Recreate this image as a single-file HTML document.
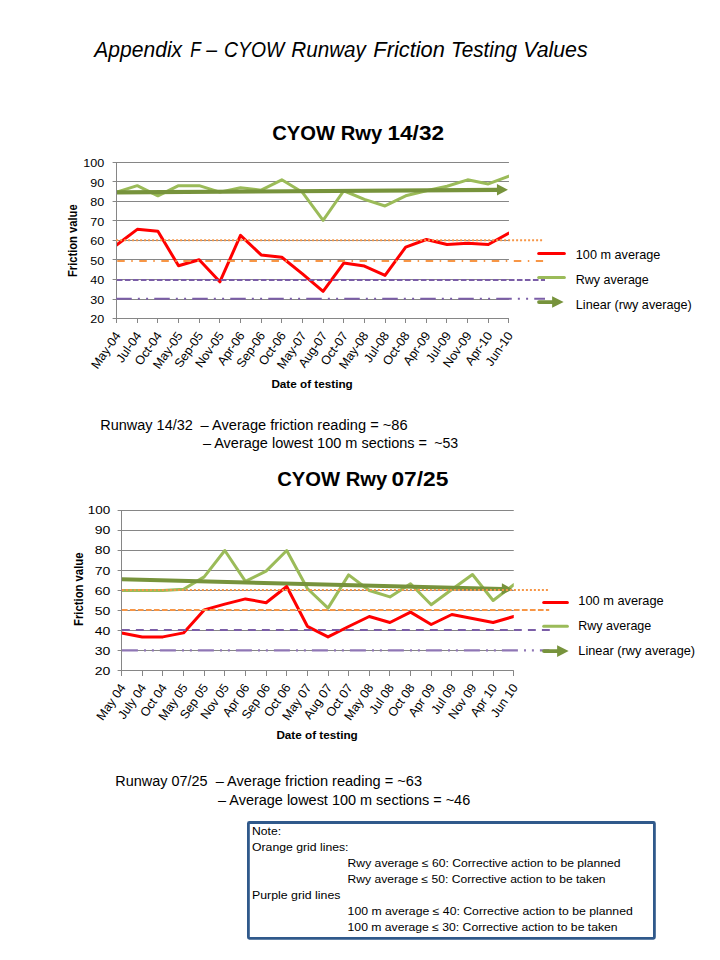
<!DOCTYPE html>
<html><head><meta charset="utf-8"><title>Appendix F</title>
<style>
html,body{margin:0;padding:0;background:#fff;}
svg{display:block;}
text{font-family:"Liberation Sans", sans-serif;fill:#000;}
</style></head>
<body>
<svg width="720" height="960" viewBox="0 0 720 960">
<rect width="720" height="960" fill="#fff"/>
<text x="94.3" y="56.8" font-size="21.4" font-style="italic" textLength="87.83" lengthAdjust="spacingAndGlyphs">Appendix</text>
<text x="190.2" y="56.8" font-size="21.4" font-style="italic" textLength="10.6" lengthAdjust="spacingAndGlyphs">F</text>
<text x="206.3" y="56.8" font-size="21.4" font-style="italic" textLength="10.84" lengthAdjust="spacingAndGlyphs">–</text>
<text x="224" y="56.8" font-size="21.4" font-style="italic" textLength="60.2" lengthAdjust="spacingAndGlyphs">CYOW</text>
<text x="291.3" y="56.8" font-size="21.4" font-style="italic" textLength="74.62" lengthAdjust="spacingAndGlyphs">Runway</text>
<text x="373.3" y="56.8" font-size="21.4" font-style="italic" textLength="71.61" lengthAdjust="spacingAndGlyphs">Friction</text>
<text x="450.9" y="56.8" font-size="21.4" font-style="italic" textLength="66.06" lengthAdjust="spacingAndGlyphs">Testing</text>
<text x="523.2" y="56.8" font-size="21.4" font-style="italic" textLength="64.48" lengthAdjust="spacingAndGlyphs">Values</text>
<line x1="112.6" y1="162.5" x2="508.95" y2="162.5" stroke="#868686" stroke-width="1"/>
<line x1="112.6" y1="181.5" x2="508.95" y2="181.5" stroke="#868686" stroke-width="1"/>
<line x1="112.6" y1="201.5" x2="508.95" y2="201.5" stroke="#868686" stroke-width="1"/>
<line x1="112.6" y1="220.5" x2="508.95" y2="220.5" stroke="#868686" stroke-width="1"/>
<line x1="112.6" y1="240.5" x2="508.95" y2="240.5" stroke="#868686" stroke-width="1"/>
<line x1="112.6" y1="259.5" x2="508.95" y2="259.5" stroke="#868686" stroke-width="1"/>
<line x1="112.6" y1="279.5" x2="508.95" y2="279.5" stroke="#868686" stroke-width="1"/>
<line x1="112.6" y1="299.5" x2="508.95" y2="299.5" stroke="#868686" stroke-width="1"/>
<line x1="112.6" y1="318.5" x2="508.95" y2="318.5" stroke="#868686" stroke-width="1"/>
<clipPath id="c1"><rect x="116.5" y="152.5" width="392.45" height="176"/></clipPath>
<line x1="116.5" y1="318.5" x2="116.5" y2="323" stroke="#868686" stroke-width="1"/>
<line x1="137.5" y1="318.5" x2="137.5" y2="323" stroke="#868686" stroke-width="1"/>
<line x1="157.5" y1="318.5" x2="157.5" y2="323" stroke="#868686" stroke-width="1"/>
<line x1="178.5" y1="318.5" x2="178.5" y2="323" stroke="#868686" stroke-width="1"/>
<line x1="199.5" y1="318.5" x2="199.5" y2="323" stroke="#868686" stroke-width="1"/>
<line x1="219.5" y1="318.5" x2="219.5" y2="323" stroke="#868686" stroke-width="1"/>
<line x1="240.5" y1="318.5" x2="240.5" y2="323" stroke="#868686" stroke-width="1"/>
<line x1="261.5" y1="318.5" x2="261.5" y2="323" stroke="#868686" stroke-width="1"/>
<line x1="281.5" y1="318.5" x2="281.5" y2="323" stroke="#868686" stroke-width="1"/>
<line x1="302.5" y1="318.5" x2="302.5" y2="323" stroke="#868686" stroke-width="1"/>
<line x1="323.5" y1="318.5" x2="323.5" y2="323" stroke="#868686" stroke-width="1"/>
<line x1="343.5" y1="318.5" x2="343.5" y2="323" stroke="#868686" stroke-width="1"/>
<line x1="364.5" y1="318.5" x2="364.5" y2="323" stroke="#868686" stroke-width="1"/>
<line x1="385.5" y1="318.5" x2="385.5" y2="323" stroke="#868686" stroke-width="1"/>
<line x1="405.5" y1="318.5" x2="405.5" y2="323" stroke="#868686" stroke-width="1"/>
<line x1="426.5" y1="318.5" x2="426.5" y2="323" stroke="#868686" stroke-width="1"/>
<line x1="446.5" y1="318.5" x2="446.5" y2="323" stroke="#868686" stroke-width="1"/>
<line x1="467.5" y1="318.5" x2="467.5" y2="323" stroke="#868686" stroke-width="1"/>
<line x1="488.5" y1="318.5" x2="488.5" y2="323" stroke="#868686" stroke-width="1"/>
<line x1="508.5" y1="318.5" x2="508.5" y2="323" stroke="#868686" stroke-width="1"/>
<text x="104.3" y="167.2" text-anchor="end" font-size="10.3" textLength="20.96" lengthAdjust="spacingAndGlyphs">100</text>
<text x="104.3" y="186.7" text-anchor="end" font-size="10.3" textLength="13.97" lengthAdjust="spacingAndGlyphs">90</text>
<text x="104.3" y="206.2" text-anchor="end" font-size="10.3" textLength="13.97" lengthAdjust="spacingAndGlyphs">80</text>
<text x="104.3" y="225.7" text-anchor="end" font-size="10.3" textLength="13.97" lengthAdjust="spacingAndGlyphs">70</text>
<text x="104.3" y="245.2" text-anchor="end" font-size="10.3" textLength="13.97" lengthAdjust="spacingAndGlyphs">60</text>
<text x="104.3" y="264.7" text-anchor="end" font-size="10.3" textLength="13.97" lengthAdjust="spacingAndGlyphs">50</text>
<text x="104.3" y="284.2" text-anchor="end" font-size="10.3" textLength="13.97" lengthAdjust="spacingAndGlyphs">40</text>
<text x="104.3" y="303.7" text-anchor="end" font-size="10.3" textLength="13.97" lengthAdjust="spacingAndGlyphs">30</text>
<text x="104.3" y="323.2" text-anchor="end" font-size="10.3" textLength="13.97" lengthAdjust="spacingAndGlyphs">20</text>
<g clip-path="url(#c1)">
<polyline points="116.6,192.11 137.25,185.67 157.9,195.81 178.55,185.67 199.2,185.67 219.85,192.11 240.5,187.82 261.15,190.16 281.8,179.82 302.45,192.3 323.1,220.38 343.75,190.74 364.4,199.32 385.05,205.95 405.7,195.81 426.35,190.74 447,186.26 467.65,179.82 488.3,183.92 508.95,176.12" fill="none" stroke="#9BBB59" stroke-width="3" stroke-linejoin="round" stroke-linecap="round"/>
<line x1="116.6" y1="192.34" x2="497.95" y2="189.87" stroke="#77933C" stroke-width="4.1"/>
<polygon points="507.95,189.8 496.99,195.62 496.91,184.12" fill="#77933C"/>
<polyline points="116.6,244.95 137.25,229.35 157.9,231.3 178.55,265.81 199.2,259.77 219.85,281.81 240.5,235.4 261.15,254.9 281.8,257.24 302.45,273.81 323.1,291.36 343.75,263.08 364.4,266.01 385.05,275.37 405.7,247.1 426.35,239.49 447,244.56 467.65,243.2 488.3,244.56 508.95,233.06" fill="none" stroke="#FF0000" stroke-width="3" stroke-linejoin="round" stroke-linecap="round"/>
</g>
<line x1="116.5" y1="162" x2="116.5" y2="319" stroke="#868686" stroke-width="1"/>
<line x1="116.1" y1="240.3" x2="542.2" y2="240.3" stroke="#F79646" stroke-width="2" stroke-dasharray="2 2"/>
<line x1="117.25" y1="261" x2="543.1" y2="261" stroke="#F79646" stroke-width="2" stroke-dasharray="7.5 6.5 1.5 6.53"/>
<line x1="116.9" y1="279.9" x2="545" y2="279.9" stroke="#7B5EA7" stroke-width="2" stroke-dasharray="5.6 2.4"/>
<line x1="116.25" y1="298.8" x2="545" y2="298.8" stroke="#7B5EA7" stroke-width="2" stroke-dasharray="15.5 6.1 2 6.25 2 6.15"/>
<text transform="translate(121.2,335.5) rotate(-55.2)" text-anchor="end" font-size="12.5">May-04</text>
<text transform="translate(141.85,335.5) rotate(-55.2)" text-anchor="end" font-size="12.5">Jul-04</text>
<text transform="translate(162.5,335.5) rotate(-55.2)" text-anchor="end" font-size="12.5">Oct-04</text>
<text transform="translate(183.15,335.5) rotate(-55.2)" text-anchor="end" font-size="12.5">May-05</text>
<text transform="translate(203.8,335.5) rotate(-55.2)" text-anchor="end" font-size="12.5">Sep-05</text>
<text transform="translate(224.45,335.5) rotate(-55.2)" text-anchor="end" font-size="12.5">Nov-05</text>
<text transform="translate(245.1,335.5) rotate(-55.2)" text-anchor="end" font-size="12.5">Apr-06</text>
<text transform="translate(265.75,335.5) rotate(-55.2)" text-anchor="end" font-size="12.5">Sep-06</text>
<text transform="translate(286.4,335.5) rotate(-55.2)" text-anchor="end" font-size="12.5">Oct-06</text>
<text transform="translate(307.05,335.5) rotate(-55.2)" text-anchor="end" font-size="12.5">May-07</text>
<text transform="translate(327.7,335.5) rotate(-55.2)" text-anchor="end" font-size="12.5">Aug-07</text>
<text transform="translate(348.35,335.5) rotate(-55.2)" text-anchor="end" font-size="12.5">Oct-07</text>
<text transform="translate(369,335.5) rotate(-55.2)" text-anchor="end" font-size="12.5">May-08</text>
<text transform="translate(389.65,335.5) rotate(-55.2)" text-anchor="end" font-size="12.5">Jul-08</text>
<text transform="translate(410.3,335.5) rotate(-55.2)" text-anchor="end" font-size="12.5">Oct-08</text>
<text transform="translate(430.95,335.5) rotate(-55.2)" text-anchor="end" font-size="12.5">Apr-09</text>
<text transform="translate(451.6,335.5) rotate(-55.2)" text-anchor="end" font-size="12.5">Jul-09</text>
<text transform="translate(472.25,335.5) rotate(-55.2)" text-anchor="end" font-size="12.5">Nov-09</text>
<text transform="translate(492.9,335.5) rotate(-55.2)" text-anchor="end" font-size="12.5">Apr-10</text>
<text transform="translate(513.55,335.5) rotate(-55.2)" text-anchor="end" font-size="12.5">Jun-10</text>
<text x="271.4" y="387.8" font-size="11.3" font-weight="bold" textLength="81.4" lengthAdjust="spacingAndGlyphs">Date of testing</text>
<text transform="translate(77.2,277) rotate(-90)" font-size="12" font-weight="bold" textLength="72.6" lengthAdjust="spacingAndGlyphs">Friction value</text>
<text x="272.2" y="139.6" font-size="21" font-weight="bold" textLength="110" lengthAdjust="spacingAndGlyphs">CYOW Rwy</text>
<text x="387.5" y="139.6" font-size="21" font-weight="bold" textLength="56.5" lengthAdjust="spacingAndGlyphs">14/32</text>
<line x1="538.7" y1="253.6" x2="564.4" y2="253.6" stroke="#FF0000" stroke-width="3" stroke-linecap="round"/>
<line x1="538.7" y1="277.6" x2="564.4" y2="277.6" stroke="#9BBB59" stroke-width="3" stroke-linecap="round"/>
<line x1="539" y1="302.05" x2="553.1" y2="302.05" stroke="#77933C" stroke-width="3.8" stroke-linecap="round"/>
<polygon points="563.6,302.05 552.1,296.25 552.1,307.85" fill="#77933C"/>
<text x="575.8" y="258.9" font-size="12.2" textLength="84.5" lengthAdjust="spacingAndGlyphs">100 m average</text>
<text x="575.8" y="284.2" font-size="12.2" textLength="73" lengthAdjust="spacingAndGlyphs">Rwy average</text>
<text x="575.8" y="309" font-size="12.2" textLength="116" lengthAdjust="spacingAndGlyphs">Linear (rwy average)</text>
<line x1="117.6" y1="510.5" x2="513.76" y2="510.5" stroke="#868686" stroke-width="1"/>
<line x1="117.6" y1="530.5" x2="513.76" y2="530.5" stroke="#868686" stroke-width="1"/>
<line x1="117.6" y1="550.5" x2="513.76" y2="550.5" stroke="#868686" stroke-width="1"/>
<line x1="117.6" y1="570.5" x2="513.76" y2="570.5" stroke="#868686" stroke-width="1"/>
<line x1="117.6" y1="590.5" x2="513.76" y2="590.5" stroke="#868686" stroke-width="1"/>
<line x1="117.6" y1="610.5" x2="513.76" y2="610.5" stroke="#868686" stroke-width="1"/>
<line x1="117.6" y1="630.5" x2="513.76" y2="630.5" stroke="#868686" stroke-width="1"/>
<line x1="117.6" y1="650.5" x2="513.76" y2="650.5" stroke="#868686" stroke-width="1"/>
<line x1="117.6" y1="670.5" x2="513.76" y2="670.5" stroke="#868686" stroke-width="1"/>
<clipPath id="c2"><rect x="121.5" y="500.5" width="392.26" height="180"/></clipPath>
<line x1="121.5" y1="670.5" x2="121.5" y2="676" stroke="#868686" stroke-width="1"/>
<line x1="142.5" y1="670.5" x2="142.5" y2="676" stroke="#868686" stroke-width="1"/>
<line x1="162.5" y1="670.5" x2="162.5" y2="676" stroke="#868686" stroke-width="1"/>
<line x1="183.5" y1="670.5" x2="183.5" y2="676" stroke="#868686" stroke-width="1"/>
<line x1="204.5" y1="670.5" x2="204.5" y2="676" stroke="#868686" stroke-width="1"/>
<line x1="224.5" y1="670.5" x2="224.5" y2="676" stroke="#868686" stroke-width="1"/>
<line x1="245.5" y1="670.5" x2="245.5" y2="676" stroke="#868686" stroke-width="1"/>
<line x1="266.5" y1="670.5" x2="266.5" y2="676" stroke="#868686" stroke-width="1"/>
<line x1="286.5" y1="670.5" x2="286.5" y2="676" stroke="#868686" stroke-width="1"/>
<line x1="307.5" y1="670.5" x2="307.5" y2="676" stroke="#868686" stroke-width="1"/>
<line x1="328.5" y1="670.5" x2="328.5" y2="676" stroke="#868686" stroke-width="1"/>
<line x1="348.5" y1="670.5" x2="348.5" y2="676" stroke="#868686" stroke-width="1"/>
<line x1="369.5" y1="670.5" x2="369.5" y2="676" stroke="#868686" stroke-width="1"/>
<line x1="389.5" y1="670.5" x2="389.5" y2="676" stroke="#868686" stroke-width="1"/>
<line x1="410.5" y1="670.5" x2="410.5" y2="676" stroke="#868686" stroke-width="1"/>
<line x1="431.5" y1="670.5" x2="431.5" y2="676" stroke="#868686" stroke-width="1"/>
<line x1="451.5" y1="670.5" x2="451.5" y2="676" stroke="#868686" stroke-width="1"/>
<line x1="472.5" y1="670.5" x2="472.5" y2="676" stroke="#868686" stroke-width="1"/>
<line x1="493.5" y1="670.5" x2="493.5" y2="676" stroke="#868686" stroke-width="1"/>
<line x1="513.5" y1="670.5" x2="513.5" y2="676" stroke="#868686" stroke-width="1"/>
<text x="110.3" y="514.2" text-anchor="end" font-size="11.2" textLength="22.42" lengthAdjust="spacingAndGlyphs">100</text>
<text x="110.3" y="534.33" text-anchor="end" font-size="11.2" textLength="15.57" lengthAdjust="spacingAndGlyphs">90</text>
<text x="110.3" y="554.46" text-anchor="end" font-size="11.2" textLength="15.57" lengthAdjust="spacingAndGlyphs">80</text>
<text x="110.3" y="574.59" text-anchor="end" font-size="11.2" textLength="15.57" lengthAdjust="spacingAndGlyphs">70</text>
<text x="110.3" y="594.72" text-anchor="end" font-size="11.2" textLength="15.57" lengthAdjust="spacingAndGlyphs">60</text>
<text x="110.3" y="614.85" text-anchor="end" font-size="11.2" textLength="15.57" lengthAdjust="spacingAndGlyphs">50</text>
<text x="110.3" y="634.98" text-anchor="end" font-size="11.2" textLength="15.57" lengthAdjust="spacingAndGlyphs">40</text>
<text x="110.3" y="655.11" text-anchor="end" font-size="11.2" textLength="15.57" lengthAdjust="spacingAndGlyphs">30</text>
<text x="110.3" y="675.24" text-anchor="end" font-size="11.2" textLength="15.57" lengthAdjust="spacingAndGlyphs">20</text>
<g clip-path="url(#c2)">
<polyline points="121.6,590.5 142.24,590.5 162.88,590.5 183.52,589.3 204.16,576.9 224.8,550.5 245.44,581.3 266.08,571.1 286.72,550.5 307.36,588.5 328,608.1 348.64,574.9 369.28,590.5 389.92,596.9 410.56,583.7 431.2,604.7 451.84,589.5 472.48,574.5 493.12,600.5 513.76,584.7" fill="none" stroke="#9BBB59" stroke-width="3" stroke-linejoin="round" stroke-linecap="round"/>
<line x1="121.6" y1="579.3" x2="502.76" y2="589.02" stroke="#77933C" stroke-width="4.1"/>
<polygon points="512.76,589.3 501.62,594.77 501.91,583.27" fill="#77933C"/>
<polyline points="121.6,633.1 142.24,636.9 162.88,636.9 183.52,632.9 204.16,609.9 224.8,604.1 245.44,598.9 266.08,602.7 286.72,586.5 307.36,626.3 328,636.9 348.64,626.5 369.28,616.5 389.92,622.5 410.56,612.1 431.2,624.5 451.84,614.5 472.48,618.5 493.12,622.5 513.76,616.5" fill="none" stroke="#FF0000" stroke-width="3" stroke-linejoin="round" stroke-linecap="round"/>
</g>
<line x1="121.5" y1="510" x2="121.5" y2="671" stroke="#868686" stroke-width="1"/>
<line x1="121.9" y1="590.1" x2="548.1" y2="590.1" stroke="#F79646" stroke-width="2" stroke-dasharray="2 2"/>
<line x1="121.9" y1="609.9" x2="549.2" y2="609.9" stroke="#F79646" stroke-width="2" stroke-dasharray="5.7 2.3"/>
<line x1="121.9" y1="630.1" x2="550" y2="630.1" stroke="#7B5EA7" stroke-width="2" stroke-dasharray="7.9 6.1"/>
<line x1="121.9" y1="650.4" x2="549.4" y2="650.4" stroke="#8F76B5" stroke-width="2.3" stroke-dasharray="16 6.1 2 5.9 2 6"/>
<text transform="translate(126.2,687.5) rotate(-55.2)" text-anchor="end" font-size="12.5">May 04</text>
<text transform="translate(146.84,687.5) rotate(-55.2)" text-anchor="end" font-size="12.5">July 04</text>
<text transform="translate(167.48,687.5) rotate(-55.2)" text-anchor="end" font-size="12.5">Oct 04</text>
<text transform="translate(188.12,687.5) rotate(-55.2)" text-anchor="end" font-size="12.5">May 05</text>
<text transform="translate(208.76,687.5) rotate(-55.2)" text-anchor="end" font-size="12.5">Sep 05</text>
<text transform="translate(229.4,687.5) rotate(-55.2)" text-anchor="end" font-size="12.5">Nov 05</text>
<text transform="translate(250.04,687.5) rotate(-55.2)" text-anchor="end" font-size="12.5">Apr 06</text>
<text transform="translate(270.68,687.5) rotate(-55.2)" text-anchor="end" font-size="12.5">Sep 06</text>
<text transform="translate(291.32,687.5) rotate(-55.2)" text-anchor="end" font-size="12.5">Oct 06</text>
<text transform="translate(311.96,687.5) rotate(-55.2)" text-anchor="end" font-size="12.5">May 07</text>
<text transform="translate(332.6,687.5) rotate(-55.2)" text-anchor="end" font-size="12.5">Aug 07</text>
<text transform="translate(353.24,687.5) rotate(-55.2)" text-anchor="end" font-size="12.5">Oct 07</text>
<text transform="translate(373.88,687.5) rotate(-55.2)" text-anchor="end" font-size="12.5">May 08</text>
<text transform="translate(394.52,687.5) rotate(-55.2)" text-anchor="end" font-size="12.5">Jul 08</text>
<text transform="translate(415.16,687.5) rotate(-55.2)" text-anchor="end" font-size="12.5">Oct 08</text>
<text transform="translate(435.8,687.5) rotate(-55.2)" text-anchor="end" font-size="12.5">Apr 09</text>
<text transform="translate(456.44,687.5) rotate(-55.2)" text-anchor="end" font-size="12.5">Jul 09</text>
<text transform="translate(477.08,687.5) rotate(-55.2)" text-anchor="end" font-size="12.5">Nov 09</text>
<text transform="translate(497.72,687.5) rotate(-55.2)" text-anchor="end" font-size="12.5">Apr 10</text>
<text transform="translate(518.36,687.5) rotate(-55.2)" text-anchor="end" font-size="12.5">Jun 10</text>
<text x="276.4" y="738.75" font-size="11.3" font-weight="bold" textLength="81.4" lengthAdjust="spacingAndGlyphs">Date of testing</text>
<text transform="translate(82.9,626) rotate(-90)" font-size="12" font-weight="bold" textLength="73.5" lengthAdjust="spacingAndGlyphs">Friction value</text>
<text x="277.2" y="486.4" font-size="21" font-weight="bold" textLength="110" lengthAdjust="spacingAndGlyphs">CYOW Rwy</text>
<text x="391.4" y="486.4" font-size="21" font-weight="bold" textLength="57" lengthAdjust="spacingAndGlyphs">07/25</text>
<line x1="543.7" y1="602.6" x2="567.4" y2="602.6" stroke="#FF0000" stroke-width="3" stroke-linecap="round"/>
<line x1="543.7" y1="626.3" x2="567.4" y2="626.3" stroke="#9BBB59" stroke-width="3" stroke-linecap="round"/>
<line x1="544" y1="651.1" x2="558.1" y2="651.1" stroke="#77933C" stroke-width="3.8" stroke-linecap="round"/>
<polygon points="568.6,651.1 557.1,645.3 557.1,656.9" fill="#77933C"/>
<text x="578.3" y="605.1" font-size="12.2" textLength="85.4" lengthAdjust="spacingAndGlyphs">100 m average</text>
<text x="578.3" y="629.9" font-size="12.2" textLength="73" lengthAdjust="spacingAndGlyphs">Rwy average</text>
<text x="578.3" y="655.1" font-size="12.2" textLength="116.8" lengthAdjust="spacingAndGlyphs">Linear (rwy average)</text>
<text x="100.3" y="429.8" font-size="13.8" textLength="92.5" lengthAdjust="spacingAndGlyphs">Runway 14/32</text>
<text x="200.6" y="429.8" font-size="13.8" textLength="207" lengthAdjust="spacingAndGlyphs">– Average friction reading = ~86</text>
<text x="202.9" y="448.4" font-size="13.8" textLength="224.2" lengthAdjust="spacingAndGlyphs">– Average lowest 100 m sections =</text>
<text x="434.2" y="448.4" font-size="13.8" textLength="24" lengthAdjust="spacingAndGlyphs">~53</text>
<text x="115.3" y="785.9" font-size="13.8" textLength="92.2" lengthAdjust="spacingAndGlyphs">Runway 07/25</text>
<text x="215.7" y="785.9" font-size="13.8" textLength="206.3" lengthAdjust="spacingAndGlyphs">– Average friction reading = ~63</text>
<text x="218" y="804.7" font-size="13.8" textLength="252.2" lengthAdjust="spacingAndGlyphs">– Average lowest 100 m sections = ~46</text>
<rect x="248.4" y="822.5" width="406" height="115.8" rx="1" fill="#fff" stroke="#30598B" stroke-width="2.8"/>
<text x="252" y="834.9" font-size="10.9" textLength="29" lengthAdjust="spacingAndGlyphs">Note:</text>
<text x="252" y="850.8" font-size="10.9" textLength="96.5" lengthAdjust="spacingAndGlyphs">Orange grid lines:</text>
<text x="347.6" y="866.7" font-size="10.9" textLength="273" lengthAdjust="spacingAndGlyphs">Rwy average ≤ 60: Corrective action to be planned</text>
<text x="347.6" y="882.8" font-size="10.9" textLength="258" lengthAdjust="spacingAndGlyphs">Rwy average ≤ 50: Corrective action to be taken</text>
<text x="252" y="898.75" font-size="10.9" textLength="88.5" lengthAdjust="spacingAndGlyphs">Purple grid lines</text>
<text x="347.6" y="914.7" font-size="10.9" textLength="285.2" lengthAdjust="spacingAndGlyphs">100 m average ≤ 40: Corrective action to be planned</text>
<text x="347.6" y="930.6" font-size="10.9" textLength="270" lengthAdjust="spacingAndGlyphs">100 m average ≤ 30: Corrective action to be taken</text>
</svg>
</body></html>
